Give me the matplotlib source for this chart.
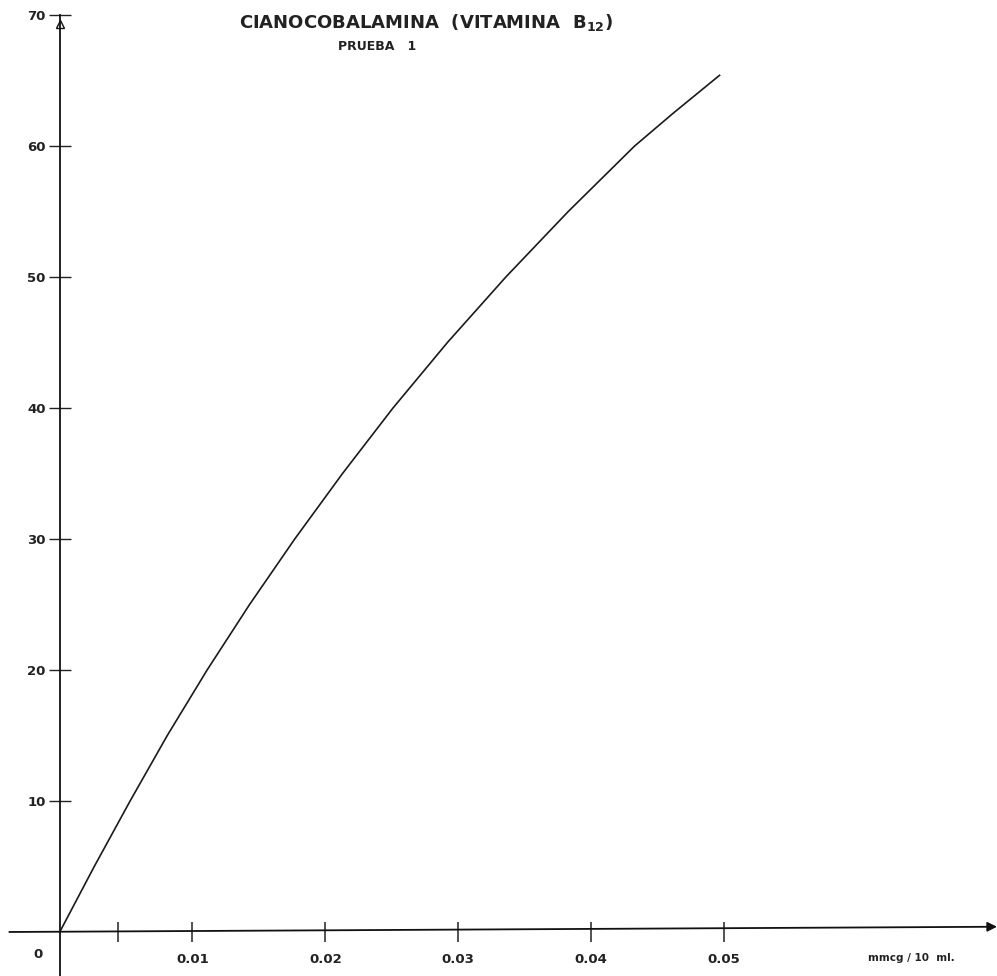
import numpy as np
import matplotlib.pyplot as plt

# concentracion (mmcg/10 ml) y lectura
conc = [0, 0.0026, 0.0053, 0.0081, 0.0111, 0.0143, 0.0177, 0.0213,
        0.0251, 0.0292, 0.0336, 0.0383, 0.0433, 0.0462, 0.0497]
lectura = [0, 5, 10, 15, 20, 25, 30, 35,
           40, 45, 50, 55, 60, 62.5, 65.4]

x_ticks = [0.01, 0.02, 0.03, 0.04, 0.05]
x_labels = ['0.01', '0.02', '0.03', '0.04', '0.05']
x_extra = [0.0044]
y_ticks = [10, 20, 30, 40, 50, 60, 70]
y_labels = ['10', '20', '30', '40', '50', '60', '70']

titulo = r'CIANOCOBALAMINA  (VITAMINA  $\mathbf{B_{12}}$)'
subtitulo = 'PRUEBA   1'
unidad = 'mmcg / 10  ml.'

fig = plt.figure(figsize=(9.97, 9.76), dpi=100)
ax = fig.add_axes([0, 0, 1, 1])
ax.set_xlim(-0.0045, 0.0706)
ax.set_ylim(-3.36, 71.15)

ax.spines['left'].set_position(('data', 0))
ax.spines['bottom'].set_position(('data', 0))
for s in ['top', 'right', 'left', 'bottom']:
    ax.spines[s].set_visible(False)

# ejes dibujados a mano con flecha
ax.plot([0, 0], [-3.4, 70], color='#111111', lw=1.3)
ax.annotate('', xy=(0.0706, 0.4), xytext=(-0.0038, 0),
            arrowprops=dict(arrowstyle='-|>', color='#111111', lw=1.3,
                            mutation_scale=14, shrinkA=0, shrinkB=0))
ax.plot([0], [69.3], marker='^', ms=6, mfc='none', mec='#111111', mew=1)

ax.plot(conc, lectura, color='#1a1a1a', lw=1.2, solid_joinstyle='round')

ax.set_xticks(x_ticks + x_extra)
ax.set_xticklabels(x_labels + [''], fontsize=9.5, fontweight='bold', color='#222222')
ax.set_yticks(y_ticks)
ax.set_yticklabels(y_labels, fontsize=9.5, fontweight='bold', color='#222222')
ax.tick_params(axis='x', direction='inout', length=14, width=1.1, pad=8, colors='#222222')
ax.tick_params(axis='y', direction='inout', length=16, width=1.0, pad=2, colors='#222222')

ax.text(-0.00163, -1.75, '0', fontsize=9.5, fontweight='bold', color='#222222',
        ha='center', va='center')

fig.text(0.427, 0.977, titulo, fontsize=13, fontweight='bold', color='#222222',
         ha='center', va='center')
fig.text(0.378, 0.952, subtitulo, fontsize=9, fontweight='bold', color='#222222',
         ha='center', va='center')
fig.text(0.914, 0.018, unidad, fontsize=7.5, fontweight='bold', color='#222222',
         ha='center', va='center')

fig.savefig('out.png', dpi=100)
